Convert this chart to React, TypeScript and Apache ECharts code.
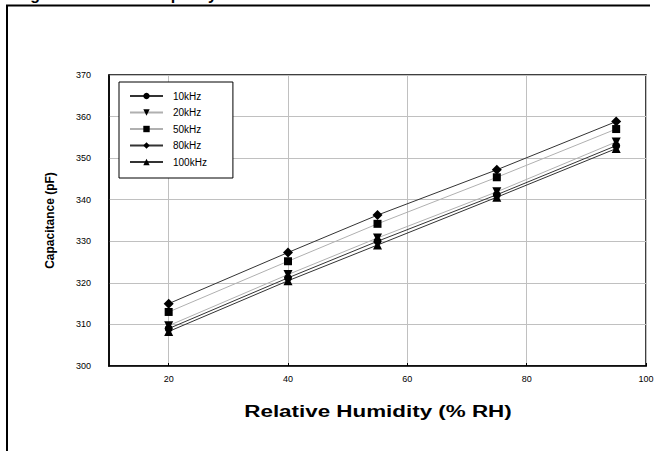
import React, { useEffect, useRef } from "react";
import * as echarts from "echarts";

const humidity = [20, 40, 55, 75, 95];
const seriesNames = ["10kHz", "20kHz", "50kHz", "80kHz", "100kHz"];
const cap10k = [309, 321.2, 330, 341.2, 353];
const cap20k = [309.7, 322, 330.8, 341.9, 353.9];
const cap50k = [313, 325.2, 334.2, 345.4, 357];
const cap80k = [315, 327.3, 336.3, 347.2, 358.8];
const cap100k = [308.3, 320.5, 329.1, 340.6, 352.3];
const xTicks = [20, 40, 60, 80, 100];
const xMin = 10;
const xMax = 100;
const yMin = 300;
const yMax = 370;
const yStep = 10;

const allValues = [cap10k, cap20k, cap50k, cap80k, cap100k];
const symbols = ["circle", "triangle", "rect", "diamond", "triangle"];
const rotates = [0, 180, 0, 0, 0];
const sizes = [8, 9, 8, 10, 9];
const lineColors = ["#333333", "#b0b0b0", "#b0b0b0", "#333333", "#333333"];

const FONT = "'Liberation Sans', Arial, sans-serif";

export default function App() {
  const ref = useRef<HTMLDivElement>(null);
  useEffect(() => {
    document.body.style.margin = "0";
    if (!ref.current) return;
    const chart = echarts.init(ref.current, null, { renderer: "svg" });
    const series = seriesNames.map((name, i) => ({
      name,
      type: "line",
      data: humidity.map((h, j) => [h, allValues[i][j]]),
      symbol: symbols[i],
      symbolRotate: rotates[i],
      symbolSize: sizes[i],
      showSymbol: true,
      lineStyle: { color: lineColors[i], width: 1 },
      itemStyle: { color: "#000", borderWidth: 0 },
      emphasis: { disabled: true },
    }));
    chart.setOption({
      animation: false,
      backgroundColor: "#fff",
      grid: {
        left: 109,
        right: 11,
        top: 75,
        bottom: 85,
        show: true,
        borderColor: "#000",
        borderWidth: 1.5,
        backgroundColor: "transparent",
      },
      legend: {
        orient: "vertical",
        left: 119,
        top: 82,
        itemWidth: 33,
        itemHeight: 8,
        itemGap: 6.5,
        padding: [9, 26, 11, 10],
        backgroundColor: "#fff",
        borderColor: "#000",
        borderWidth: 1,
        borderRadius: 0,
        textStyle: { fontSize: 10, color: "#000", fontFamily: FONT, padding: [0, 0, 0, 5] },
        data: seriesNames,
      },
      xAxis: {
        type: "value",
        min: xMin,
        max: xMax,
        axisLine: { show: true, onZero: false, lineStyle: { color: "#000", width: 1.5 } },
        axisTick: { show: true, inside: true, length: 3, customValues: xTicks, lineStyle: { color: "#000" } },
        axisLabel: { customValues: xTicks, fontSize: 9, color: "#000", fontFamily: FONT, margin: 8 },
        splitLine: { show: true, lineStyle: { color: "#c0c0c0", width: 1 } },
      },
      yAxis: {
        type: "value",
        min: yMin,
        max: yMax,
        interval: yStep,
        name: "Capacitance (pF)",
        nameLocation: "middle",
        nameGap: 53,
        nameTextStyle: { fontSize: 12, fontWeight: "bold", color: "#000", fontFamily: FONT },
        axisLine: { show: true, lineStyle: { color: "#000", width: 1.5 } },
        axisTick: { show: false },
        axisLabel: { fontSize: 9, color: "#000", fontFamily: FONT, margin: 18 },
        splitLine: { show: true, lineStyle: { color: "#c0c0c0", width: 1 } },
      },
      graphic: [
        {
          type: "polyline",
          shape: { points: [[7, 451], [7, 5.5], [650, 5.5]] },
          style: { stroke: "#000", lineWidth: 2, fill: null },
          silent: true,
        },
        {
          type: "text",
          x: 16,
          y: 2.5,
          style: {
            text: "Figure 5.  Sensor Capacity",
            font: "bold 16px " + FONT,
            fill: "#000",
            textAlign: "left",
            textVerticalAlign: "bottom",
          },
          silent: true,
        },
        {
          type: "text",
          x: 378,
          y: 411,
          scaleX: 1.4,
          style: {
            text: "Relative Humidity (% RH)",
            font: "bold 16px " + FONT,
            fill: "#000",
            textAlign: "center",
            textVerticalAlign: "middle",
          },
          silent: true,
        },
      ],
      series,
    });
    return () => chart.dispose();
  }, []);
  return <div ref={ref} style={{ width: 657, height: 451 }} />;
}
